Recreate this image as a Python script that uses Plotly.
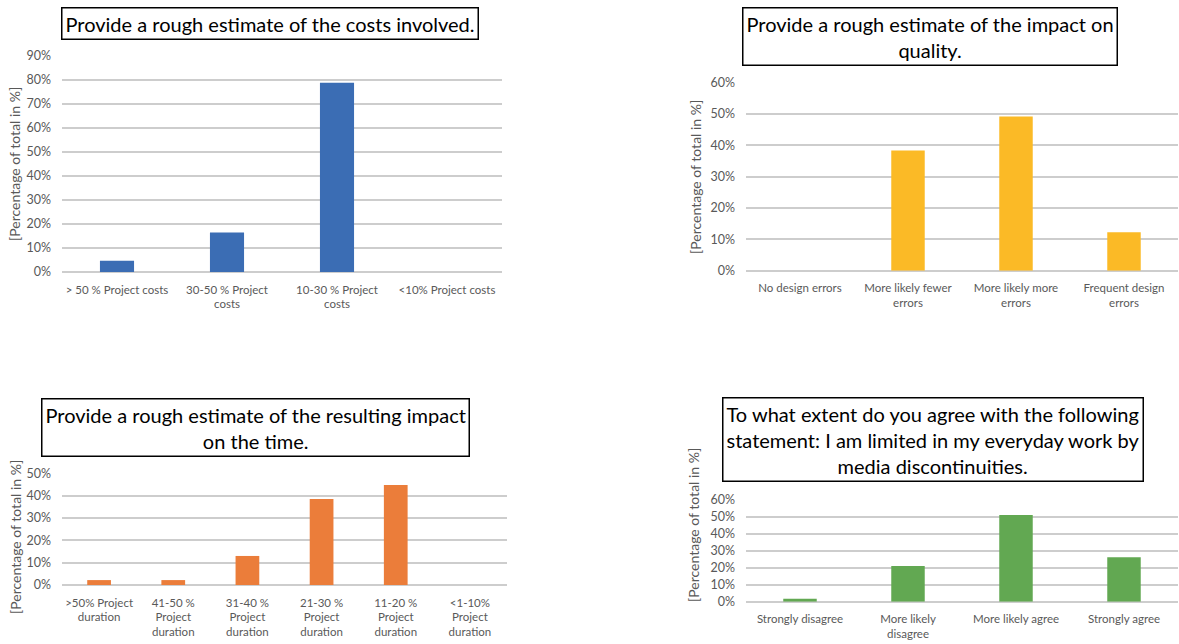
import plotly.graph_objects as go

W, H = 1179, 644

cost_cats = ["> 50 % Project costs", "30-50 % Project<br>costs", "10-30 % Project<br>costs", "<10% Project costs"]
cost_vals = [4.7, 16.5, 78.9, 0]

qual_cats = ["No design errors", "More likely fewer<br>errors", "More likely more<br>errors", "Frequent design<br>errors"]
qual_vals = [0, 38.4, 49.2, 12.3]

time_cats = [">50% Project<br>duration", "41-50 %<br>Project<br>duration", "31-40 %<br>Project<br>duration",
             "21-30 %<br>Project<br>duration", "11-20 %<br>Project<br>duration", "<1-10%<br>Project<br>duration"]
time_vals = [2.2, 2.2, 13.0, 38.5, 44.8, 0]

agree_cats = ["Strongly disagree", "More likely<br>disagree", "More likely agree", "Strongly agree"]
agree_vals = [1.8, 21.1, 51.2, 26.2]

titles = [
    "Provide a rough estimate of the costs involved.",
    "Provide a rough estimate of the impact on<br>quality.",
    "Provide a rough estimate of the resulting impact<br>on the time.",
    "To what extent do you agree with the following<br>statement: I am limited in my everyday work by<br>media discontinuities.",
]

FONT = "Lato, 'Open Sans', sans-serif"
GRAY = "#595959"

# panel pixel geometry: (x0, x1, ytop, ybottom)
panels = [
    dict(cats=cost_cats, vals=cost_vals, color="#3B6DB4", px=(62, 502, 56, 272), ymax=90, width=0.31,
         title=titles[0], tbox=(270, 23.5), ytitle=(15, 164)),
    dict(cats=qual_cats, vals=qual_vals, color="#FBBA26", px=(746, 1178, 82.7, 270.7), ymax=60, width=0.31,
         title=titles[1], tbox=(929.5, 37), ytitle=(695, 177)),
    dict(cats=time_cats, vals=time_vals, color="#EB7D3A", px=(62, 507, 473.3, 585), ymax=50, width=0.32,
         title=titles[2], tbox=(255, 427.5), ytitle=(15, 537)),
    dict(cats=agree_cats, vals=agree_vals, color="#62A852", px=(746, 1178, 500, 601.7), ymax=60, width=0.31,
         title=titles[3], tbox=(933, 439.5), ytitle=(693, 525)),
]

fig = go.Figure()
annotations = []
for i, p in enumerate(panels):
    n = "" if i == 0 else str(i + 1)
    x0, x1, yt, yb = p["px"]
    fig.add_trace(go.Bar(x=p["cats"], y=p["vals"], marker=dict(color=p["color"], line=dict(width=0)),
                         width=p["width"], xaxis="x" + n, yaxis="y" + n, showlegend=False,
                         hoverinfo="x+y"))
    fig.update_layout({
        "xaxis" + n: dict(domain=[x0 / W, x1 / W], anchor="y" + n, showgrid=False, showline=False,
                          ticks="", tickfont=dict(family=FONT, size=11.5, color=GRAY), tickangle=0,
                          ticklabelstandoff=9, fixedrange=True, automargin=False),
        "yaxis" + n: dict(domain=[1 - yb / H, 1 - yt / H], anchor="x" + n, range=[0, p["ymax"]],
                          dtick=10, ticksuffix="%", showgrid=True, gridcolor="#CDCDCD", gridwidth=2,
                          zeroline=True, zerolinecolor="#CDCDCD", zerolinewidth=2, showline=False,
                          tickfont=dict(family=FONT, size=12.5, color=GRAY), ticklabelstandoff=10,
                          fixedrange=True, automargin=False),
    })
    annotations.append(dict(text=p["title"], x=p["tbox"][0] / W, y=1 - p["tbox"][1] / H,
                            xref="paper", yref="paper", xanchor="center", yanchor="middle",
                            showarrow=False, bordercolor="black", borderwidth=1.5, borderpad=3,
                            bgcolor="white", font=dict(family=FONT, size=20, color="black")))
    annotations.append(dict(text="[Percentage of total in %]", x=p["ytitle"][0] / W, y=1 - p["ytitle"][1] / H,
                            xref="paper", yref="paper", xanchor="center", yanchor="middle",
                            showarrow=False, textangle=-90, font=dict(family=FONT, size=14, color=GRAY)))

fig.update_layout(width=W, height=H, margin=dict(l=0, r=0, t=0, b=0, pad=0, autoexpand=False),
                  paper_bgcolor="white", plot_bgcolor="white", bargap=0.69,
                  annotations=annotations, font=dict(family=FONT))

fig.write_html("out.html")
